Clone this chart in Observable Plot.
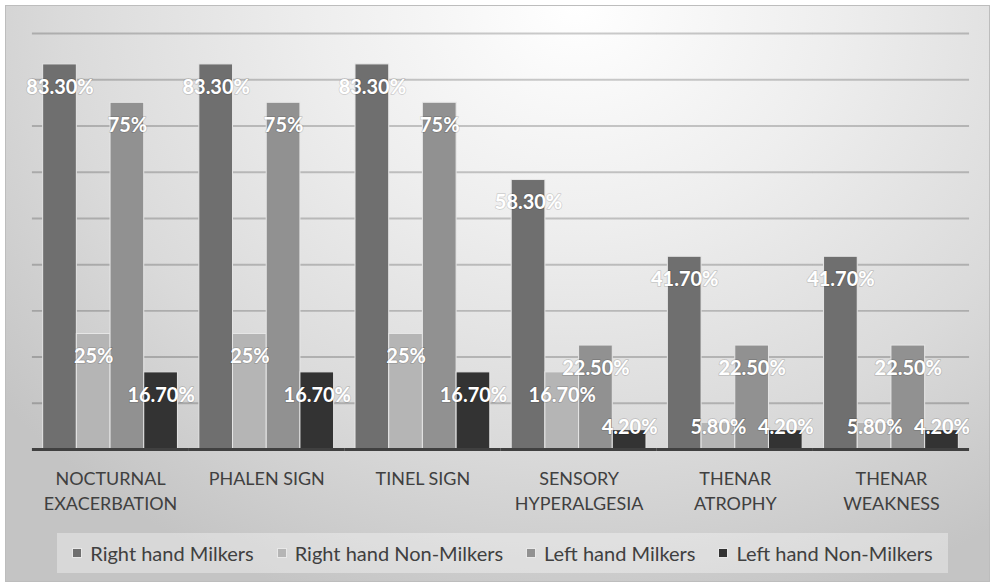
<!DOCTYPE html>
<html>
<head>
<meta charset="utf-8">
<script src="https://cdn.jsdelivr.net/npm/d3@7"></script>
<script src="https://cdn.jsdelivr.net/npm/@observablehq/plot@0.6"></script>
<style>
  html, body { margin: 0; padding: 0; background: #fff; }
  #chart {
    position: absolute; left: 5px; top: 5px; width: 985px; height: 577px;
    box-sizing: border-box; border: 1px solid #bdbdbd;
    background: radial-gradient(ellipse 75% 110% at 58% 0%, #ffffff 0%, #eeeeee 35%, #dadada 70%, #c4c4c4 100%);
    font-family: Lato, "Open Sans", sans-serif; overflow: hidden;
  }
  #legend {
    position: absolute; left: 51px; top: 527px; width: 891px; height: 40px;
    background: rgba(255,255,255,0.35);
    display: flex; align-items: center; justify-content: center; gap: 23px;
    font-size: 20px; color: #404040;
  }
  .item { display: flex; align-items: center; gap: 8px; }
  .sw { width: 10px; height: 10px; display: inline-block; box-sizing: border-box; border: 1px solid #e8e8e8; }
</style>
</head>
<body>
<div id="chart"></div>
<script>
const categories = ["NOCTURNAL EXACERBATION", "PHALEN SIGN", "TINEL SIGN", "SENSORY HYPERALGESIA", "THENAR ATROPHY", "THENAR WEAKNESS"];
const tickLabels = ["NOCTURNAL\nEXACERBATION", "PHALEN SIGN", "TINEL SIGN", "SENSORY\nHYPERALGESIA", "THENAR\nATROPHY", "THENAR\nWEAKNESS"];
const series = ["Right hand Milkers", "Right hand Non-Milkers", "Left hand Milkers", "Left hand Non-Milkers"];
const rightMilkers = [83.3, 83.3, 83.3, 58.3, 41.7, 41.7];
const rightNonMilkers = [25, 25, 25, 16.7, 5.8, 5.8];
const leftMilkers = [75, 75, 75, 22.5, 22.5, 22.5];
const leftNonMilkers = [16.7, 16.7, 16.7, 4.2, 4.2, 4.2];
const colors = ["#6f6f6f", "#b5b5b5", "#919191", "#333333"];
const gridTicks = [10, 20, 30, 40, 50, 60, 70, 80, 90];

const seriesValues = [rightMilkers, rightNonMilkers, leftMilkers, leftNonMilkers];
const data = [];
categories.forEach((c, i) => series.forEach((s, j) => data.push({cat: c, series: s, value: seriesValues[j][i]})));
const fmt = v => Number.isInteger(v) ? v + "%" : v.toFixed(2) + "%";

const chart = Plot.plot({
  width: 985, height: 520,
  marginLeft: 26, marginRight: 20, marginTop: 27, marginBottom: 76,
  style: {background: "transparent", fontFamily: "Lato, 'Open Sans', sans-serif", overflow: "visible"},
  fx: {domain: categories, paddingInner: 0.137, paddingOuter: 0.0685, round: false, label: null},
  x: {domain: series, padding: 0, axis: null, round: false},
  y: {domain: [0, 90], axis: null},
  color: {domain: series, range: colors},
  marks: [
    Plot.ruleY(gridTicks, {stroke: "#000", strokeOpacity: 0.2, strokeWidth: 2, insetLeft: -10.75, insetRight: -10.75}),
    Plot.barY(data, {fx: "cat", x: "series", y: "value", fill: "series", stroke: "#e6e6e6", strokeWidth: 1}),
    Plot.ruleY([0], {stroke: "#404040", strokeWidth: 3, insetLeft: -10.75, insetRight: -10.75}),
    Plot.text(data, {fx: "cat", x: "series", y: d => Math.max(d.value, 9.8), text: d => fmt(d.value), dy: 23,
      fill: "white", fontWeight: "bold", fontSize: 20, stroke: "#000", strokeOpacity: 0.12, strokeWidth: 2}),
    Plot.axisFx({anchor: "bottom", tickSize: 0, tickPadding: 18, fontSize: 18, lineHeight: 1.39, fill: "#404040",
      tickFormat: d => tickLabels[categories.indexOf(d)], label: null})
  ]
});
document.getElementById("chart").appendChild(chart);

const legend = document.createElement("div");
legend.id = "legend";
series.forEach((s, i) => {
  const it = document.createElement("div");
  it.className = "item";
  it.innerHTML = `<span class="sw" style="background:${colors[i]}"></span><span>${s}</span>`;
  legend.appendChild(it);
});
document.getElementById("chart").appendChild(legend);
</script>
</body>
</html>
